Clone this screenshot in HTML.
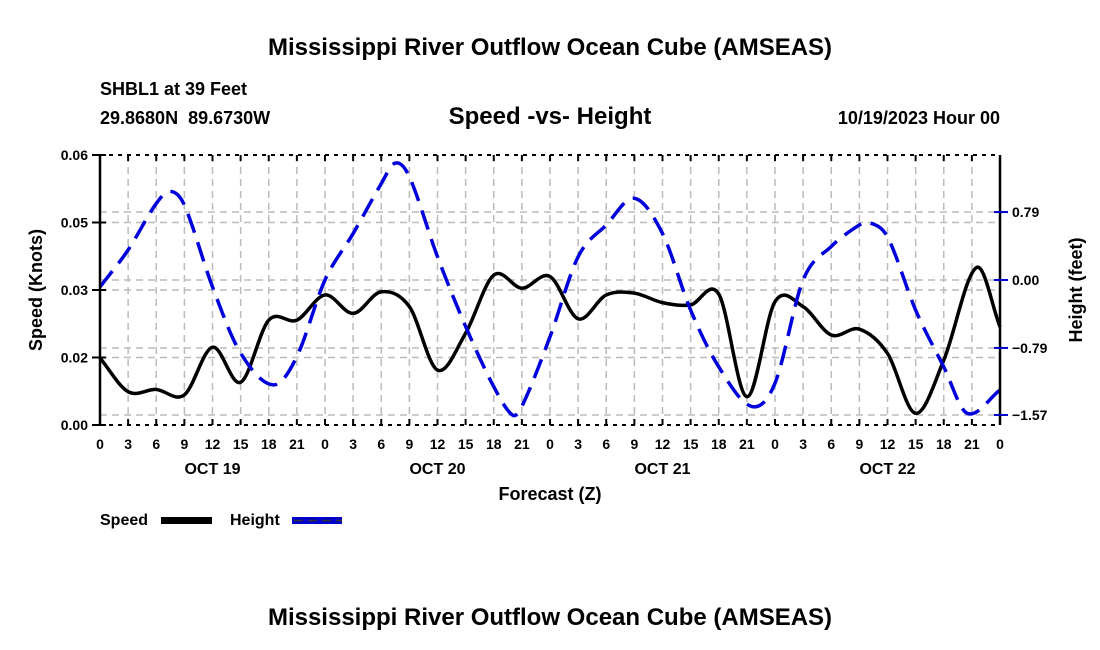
<!DOCTYPE html>
<html><head><meta charset="utf-8"><style>
html,body{margin:0;padding:0;background:#fff;}
svg{display:block;font-family:"Liberation Sans",Arial,sans-serif;font-weight:bold;}
</style></head><body>
<svg id="chart" width="1100" height="650" viewBox="0 0 1100 650">
<rect width="1100" height="650" fill="#fff"/>
<text x="550" y="55" font-size="24" text-anchor="middle">Mississippi River Outflow Ocean Cube (AMSEAS)</text>
<text x="100" y="95" font-size="18">SHBL1 at 39 Feet</text>
<text x="100" y="124" font-size="18" style="white-space:pre">29.8680N  89.6730W</text>
<text x="550" y="124" font-size="24" text-anchor="middle">Speed -vs- Height</text>
<text x="1000" y="124" font-size="18" text-anchor="end">10/19/2023 Hour 00</text>
<g id="grid"></g>
<g id="series"></g>
<g id="axes"></g>
<text transform="translate(42,290) rotate(-90)" font-size="18" text-anchor="middle">Speed (Knots)</text>
<text transform="translate(1082,290) rotate(-90)" font-size="18" text-anchor="middle">Height (feet)</text>
<text x="550" y="500" font-size="18" text-anchor="middle">Forecast (Z)</text>
<g>
<text x="100" y="525" font-size="16">Speed</text>
<rect x="161" y="517" width="51" height="7" fill="#000"/>
<text x="230" y="525" font-size="16">Height</text>
<rect x="292" y="517" width="50" height="7" fill="#0000cc"/>
<line x1="294" y1="520.5" x2="342" y2="520.5" stroke="#333" stroke-width="1.5" stroke-dasharray="9,5"/>
</g>
<text x="550" y="625" font-size="24" text-anchor="middle">Mississippi River Outflow Ocean Cube (AMSEAS)</text>
</svg>
<script>
const speedHours=[0,3,6,9,12,15,18,21,24,27,30,33,36,39,42,45,48,51,54,57,60,63,66,69,72,75,78,81,84,87,90,93.5,96];
const speedValues=[0.0149,0.0074,0.0079,0.0067,0.0173,0.0095,0.0233,0.0233,0.0289,0.0248,0.0296,0.0263,0.0122,0.0204,0.0333,0.0304,0.0330,0.0236,0.0289,0.0293,0.0272,0.0267,0.0291,0.0063,0.0274,0.0263,0.0200,0.0213,0.0159,0.0026,0.0144,0.0350,0.0218];
const heightHours=[0,3,6,7.5,9,12,15,18.5,21,24,27,30,31.5,33,36,39,42,44,45,48,51,54,57,60,63,66,69.5,72,75,78,81,82,84,87,90,92.5,96];
const heightValues=[-0.08,0.35,0.89,1.03,0.87,-0.08,-0.85,-1.22,-0.89,0,0.54,1.12,1.36,1.20,0.27,-0.54,-1.24,-1.57,-1.47,-0.66,0.27,0.64,0.95,0.54,-0.35,-1.01,-1.47,-1.20,0,0.39,0.64,0.67,0.50,-0.35,-1.01,-1.55,-1.28];
const speedTicks=[0,0.015,0.03,0.045,0.06];
const speedTickLabels=["0.00","0.02","0.03","0.05","0.06"];
const heightTicks=[0.79,0,-0.79,-1.57];
const heightTickLabels=["0.79","0.00","\u22120.79","\u22121.57"];
const hourTickLabels=["0","3","6","9","12","15","18","21"];
const dayLabels=["OCT 19","OCT 20","OCT 21","OCT 22"];

const L=100,R=1000,T=155,B=425;
const xs=h=>L+(h/96)*(R-L);
const ySpeed=v=>B-(v/0.06)*(B-T);
const yHeight=v=>280-v*86;
const NS="http://www.w3.org/2000/svg";
function mk(tag,attrs,parent){const e=document.createElementNS(NS,tag);for(const k in attrs)e.setAttribute(k,attrs[k]);parent.appendChild(e);return e;}
const grid=document.getElementById('grid'),axes=document.getElementById('axes'),series=document.getElementById('series');

for(let h=3;h<96;h+=3){
 const g=mk('line',{x1:xs(h),y1:T,x2:xs(h),y2:B,stroke:'#bbb','stroke-width':1.5,'stroke-dasharray':'7,5'},grid);
 
 
}
speedTicks.forEach(v=>{if(v>0&&v<0.06){const g=mk('line',{x1:L,y1:ySpeed(v),x2:R,y2:ySpeed(v),stroke:'#bbb','stroke-width':1.5,'stroke-dasharray':'7,5'},grid);
 
 }});
heightTicks.forEach(v=>{const g=mk('line',{x1:L,y1:yHeight(v),x2:R,y2:yHeight(v),stroke:'#bbb','stroke-width':1.5,'stroke-dasharray':'7,5'},grid);
 
 });

function smooth(hs,vs,fy){
 const p=hs.map((h,i)=>[xs(h),fy(vs[i])]);
 const n=p.length;
 const m=p.map((pt,i)=>{
  const a=p[Math.max(0,i-1)],b=p[Math.min(n-1,i+1)];
  return (b[1]-a[1])/(b[0]-a[0]);
 });
 let d='M'+p[0][0]+','+p[0][1];
 for(let i=0;i<n-1;i++){
  const dx=(p[i+1][0]-p[i][0])/3;
  d+=' C'+(p[i][0]+dx)+','+(p[i][1]+m[i]*dx)+' '+(p[i+1][0]-dx)+','+(p[i+1][1]-m[i+1]*dx)+' '+p[i+1][0]+','+p[i+1][1];
 }
 return d;
}
const sp=mk('path',{d:smooth(speedHours,speedValues,ySpeed),fill:'none',stroke:'#000','stroke-width':3.5},series);


const hp=mk('path',{d:smooth(heightHours,heightValues,yHeight),fill:'none',stroke:'#0000dd','stroke-width':3.5,'stroke-dasharray':'20,10'},series);



mk('line',{x1:L,y1:T,x2:L,y2:B,stroke:'#000','stroke-width':2.5},axes);
mk('line',{x1:R,y1:T,x2:R,y2:B,stroke:'#000','stroke-width':2.5},axes);
mk('line',{x1:L,y1:T,x2:R,y2:T,stroke:'#000','stroke-width':2,'stroke-dasharray':'4,5'},axes);
mk('line',{x1:L,y1:B,x2:R,y2:B,stroke:'#000','stroke-width':2,'stroke-dasharray':'4,5'},axes);
for(let h=0;h<=96;h+=3){
 mk('line',{x1:xs(h),y1:T,x2:xs(h),y2:T+6,stroke:'#000','stroke-width':2},axes);
 mk('line',{x1:xs(h),y1:B,x2:xs(h),y2:B-6,stroke:'#000','stroke-width':2},axes);
 const t=mk('text',{x:xs(h),y:449,'font-size':14,'text-anchor':'middle'},axes);
 t.textContent=h===96?'0':hourTickLabels[(h/3)%8];
 
 
}
dayLabels.forEach((d,i)=>{const t=mk('text',{x:xs(12+24*i),y:474,'font-size':16,'text-anchor':'middle'},axes);t.textContent=d;
 
 });
speedTicks.forEach((v,i)=>{
 mk('line',{x1:L-8,y1:ySpeed(v),x2:L+6,y2:ySpeed(v),stroke:'#000','stroke-width':2},axes);
 const t=mk('text',{x:L-12,y:ySpeed(v)+5,'font-size':14,'text-anchor':'end'},axes);t.textContent=speedTickLabels[i];
 
 
});
heightTicks.forEach((v,i)=>{
 mk('line',{x1:R-6,y1:yHeight(v),x2:R+8,y2:yHeight(v),stroke:'#0000cc','stroke-width':2},axes);
 const t=mk('text',{x:R+12,y:yHeight(v)+5,'font-size':14},axes);t.textContent=heightTickLabels[i];
 
 
});
</script>
</body></html>
